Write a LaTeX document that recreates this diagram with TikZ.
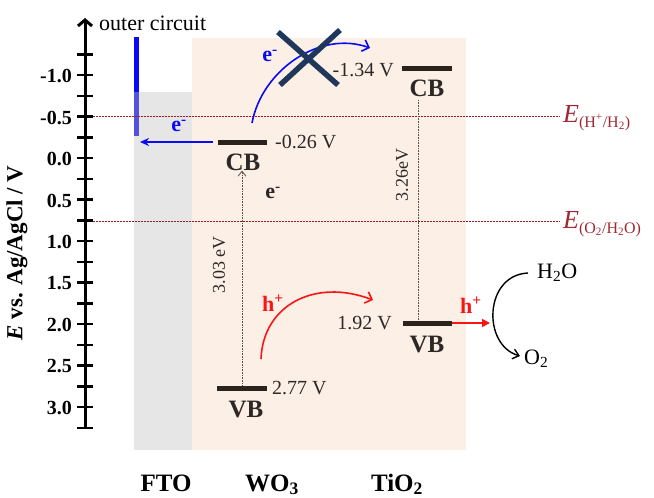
\documentclass[tikz,border=0pt]{standalone}
\usepackage{fontspec}
\setmainfont{Liberation Serif}
\usetikzlibrary{arrows.meta,calc}
\definecolor{peach}{RGB}{252,239,230}
\definecolor{ftogray}{RGB}{192,192,192}
\definecolor{bandc}{RGB}{45,35,30}
\definecolor{txtc}{RGB}{45,40,38}
\definecolor{refred}{RGB}{150,30,35}
\definecolor{elab}{RGB}{160,40,50}
\definecolor{eblue}{RGB}{10,10,245}
\definecolor{navy}{RGB}{30,55,90}
\definecolor{hred}{RGB}{250,20,20}
\tikzset{
  bandbar/.style={fill=bandc, inner sep=0pt, minimum height=5pt, minimum width=#1},
  bandlab/.style={font=\fontsize{25}{25}\selectfont\bfseries, text=txtc, inner sep=0pt},
  vallab/.style={font=\fontsize{20}{20}\selectfont, text=txtc, inner sep=0pt},
  ticklab/.style={font=\fontsize{20}{20}\selectfont\bfseries, inner sep=0pt, anchor=east},
  refline/.style={refred, line width=0.9pt, dash pattern=on 0.9pt off 0.6pt},
  gapline/.style={txtc!80, line width=0.8pt, dash pattern=on 0.8pt off 0.8pt},
  elabel/.style={text=elab, inner sep=0pt, anchor=base west, font=\fontsize{26}{26}\selectfont},
  carrier/.style={font=\fontsize{22}{22}\selectfont\bfseries, inner sep=0pt},
  chemlab/.style={font=\fontsize{22}{22}\selectfont, anchor=west, inner sep=0pt},
  matlab/.style={font=\fontsize{25}{25}\selectfont\bfseries, anchor=base, inner sep=0pt},
}
\begin{document}
\begin{tikzpicture}[x=1pt,y=-1pt]
\useasboundingbox (0,0) rectangle (654,498);
% backgrounds
\fill[peach] (192,38) rectangle (466,450);
\fill[eblue] (134,37) rectangle (139,136);
\fill[ftogray, fill opacity=0.4] (134,92) rectangle (192,450);
% reference potentials
\coordinate (hl) at (85,116);
\coordinate (hr) at (560,116);
\coordinate (ol) at (85,221);
\coordinate (or) at (560,221);
\draw[refline] (hl) -- (hr);
\draw[refline] (ol) -- (or);
\node[elabel] (eh) at (563,122) {\textit{E}\raisebox{-5pt}{\fontsize{16}{16}\selectfont(H\textsuperscript{+}/H\textsubscript{2})}};
\node[elabel] (eo) at (563,228) {\textit{E}\raisebox{-5pt}{\fontsize{16}{16}\selectfont(O\textsubscript{2}/H\textsubscript{2}O)}};
% axis
\coordinate (abot) at (85,429);
\coordinate (atop) at (85,18);
\draw[line width=3pt, -{Straight Barb[length=6pt,width=14pt]}] (abot) -- (atop);
\foreach \v in {-1.25,-1.0,...,3.3}{
  \draw[line width=2.5pt] (77,{158+83*\v}) -- (93,{158+83*\v});
}
\foreach \v/\t in {-1.0/-1.0,-0.5/-0.5,0/0.0,0.5/0.5,1.0/1.0,1.5/1.5,2.0/2.0,2.5/2.5,3.0/3.0}{
  \node[ticklab] at (72,{159+83*\v}) {\t};
}
\node[rotate=90, font=\fontsize{23}{23}\selectfont\bfseries, inner sep=0pt] (ylab) at (17,253) {\textit{E} vs. Ag/AgCl / V};
\node[font=\fontsize{22}{22}\selectfont, anchor=base west, inner sep=0pt] (oc) at (99,30) {outer circuit};
% band levels
\node[bandbar=49pt] (wcb) at (242.5,142) {};
\node[bandbar=50pt] (wvb) at (242,388) {};
\node[bandbar=50pt] (tcb) at (427,68) {};
\node[bandbar=49pt] (tvb) at (427.5,323) {};
\node[bandlab] (wcbl) at (243,162) {CB};
\node[bandlab] (wvbl) at (246,410) {VB};
\node[bandlab] (tcbl) at (427,88) {CB};
\node[bandlab] (tvbl) at (427,345) {VB};
\node[vallab, anchor=west] (wcbv) at (275,142) {-0.26 V};
\node[vallab, anchor=west] (wvbv) at (272,388) {2.77 V};
\node[vallab, anchor=east] (tcbv) at (394,70) {-1.34 V};
\node[vallab, anchor=east] (tvbv) at (392,323) {1.92 V};
% band gaps
\draw[gapline, -{Straight Barb[length=5pt,width=8pt,line width=0.8pt]}] (wvb.north) -- (wvb.north |- wcbl.south);
\node[vallab, font=\fontsize{18}{18}\selectfont, rotate=90] (wgap) at (219,265) {3.03 eV};
\coordinate (tgt) at (418,100);
\draw[gapline] (tgt) -- (tgt |- tvb.north);
\node[vallab, font=\fontsize{18}{18}\selectfont, rotate=90] (tgap) at (402,175) {3.26eV};
% electron transfer to FTO
\coordinate (fto) at (140,142);
\draw[eblue, line width=1.6pt, -{Stealth[length=9pt,width=8pt]}] ($(wcb.west)+(-5,0)$) -- (fto);
\node[carrier, text=eblue] (e1) at (179,126) {e\textsuperscript{-}};
% blocked electron transfer
\coordinate (bs) at (252,123);
\coordinate (be) at (370,48);
\draw[eblue, line width=1.6pt, -{Straight Barb[length=6pt,width=12pt]}] (bs) .. controls (262,70) and (320,30) .. (be);
\node[carrier, text=eblue] (e2) at (270,56) {e\textsuperscript{-}};
\draw[navy, line width=5.5pt] (278,32) -- (338,85);
\draw[navy, line width=5.5pt] (340,30) -- (280,85);
\node[carrier, text=txtc] (e3) at (273,193) {e\textsuperscript{-}};
% hole transfer
\coordinate (hs) at (261,359);
\coordinate (he) at (373,300);
\draw[hred, line width=1.6pt, -{Straight Barb[length=6pt,width=12pt]}] (hs) .. controls (263,305) and (315,278) .. (he);
\node[carrier, text=hred] (h1) at (273,303) {h\textsuperscript{+}};
\coordinate (hv) at (490,323);
\draw[hred, line width=1.6pt, -{Triangle[length=8pt,width=8pt]}] (tvb.east) -- (hv);
\node[carrier, text=hred] (h2) at (471,305) {h\textsuperscript{+}};
% water oxidation
\node[chemlab] (h2o) at (537,273) {H\textsubscript{2}O};
\node[chemlab] (o2) at (524,359) {O\textsubscript{2}};
\draw[black, line width=1.4pt, -{Straight Barb[length=6pt,width=10pt]}] ($(h2o.west)+(-9,0)$) .. controls (484,275) and (482,345) .. ($(o2.west)+(-4,-3)$);
% bottom labels
\node[matlab] (lfto) at (166,491) {FTO};
\node[matlab] (lwo) at (272,491) {WO\textsubscript{3}};
\node[matlab] (lti) at (397,491) {TiO\textsubscript{2}};
\end{tikzpicture}
\end{document}
